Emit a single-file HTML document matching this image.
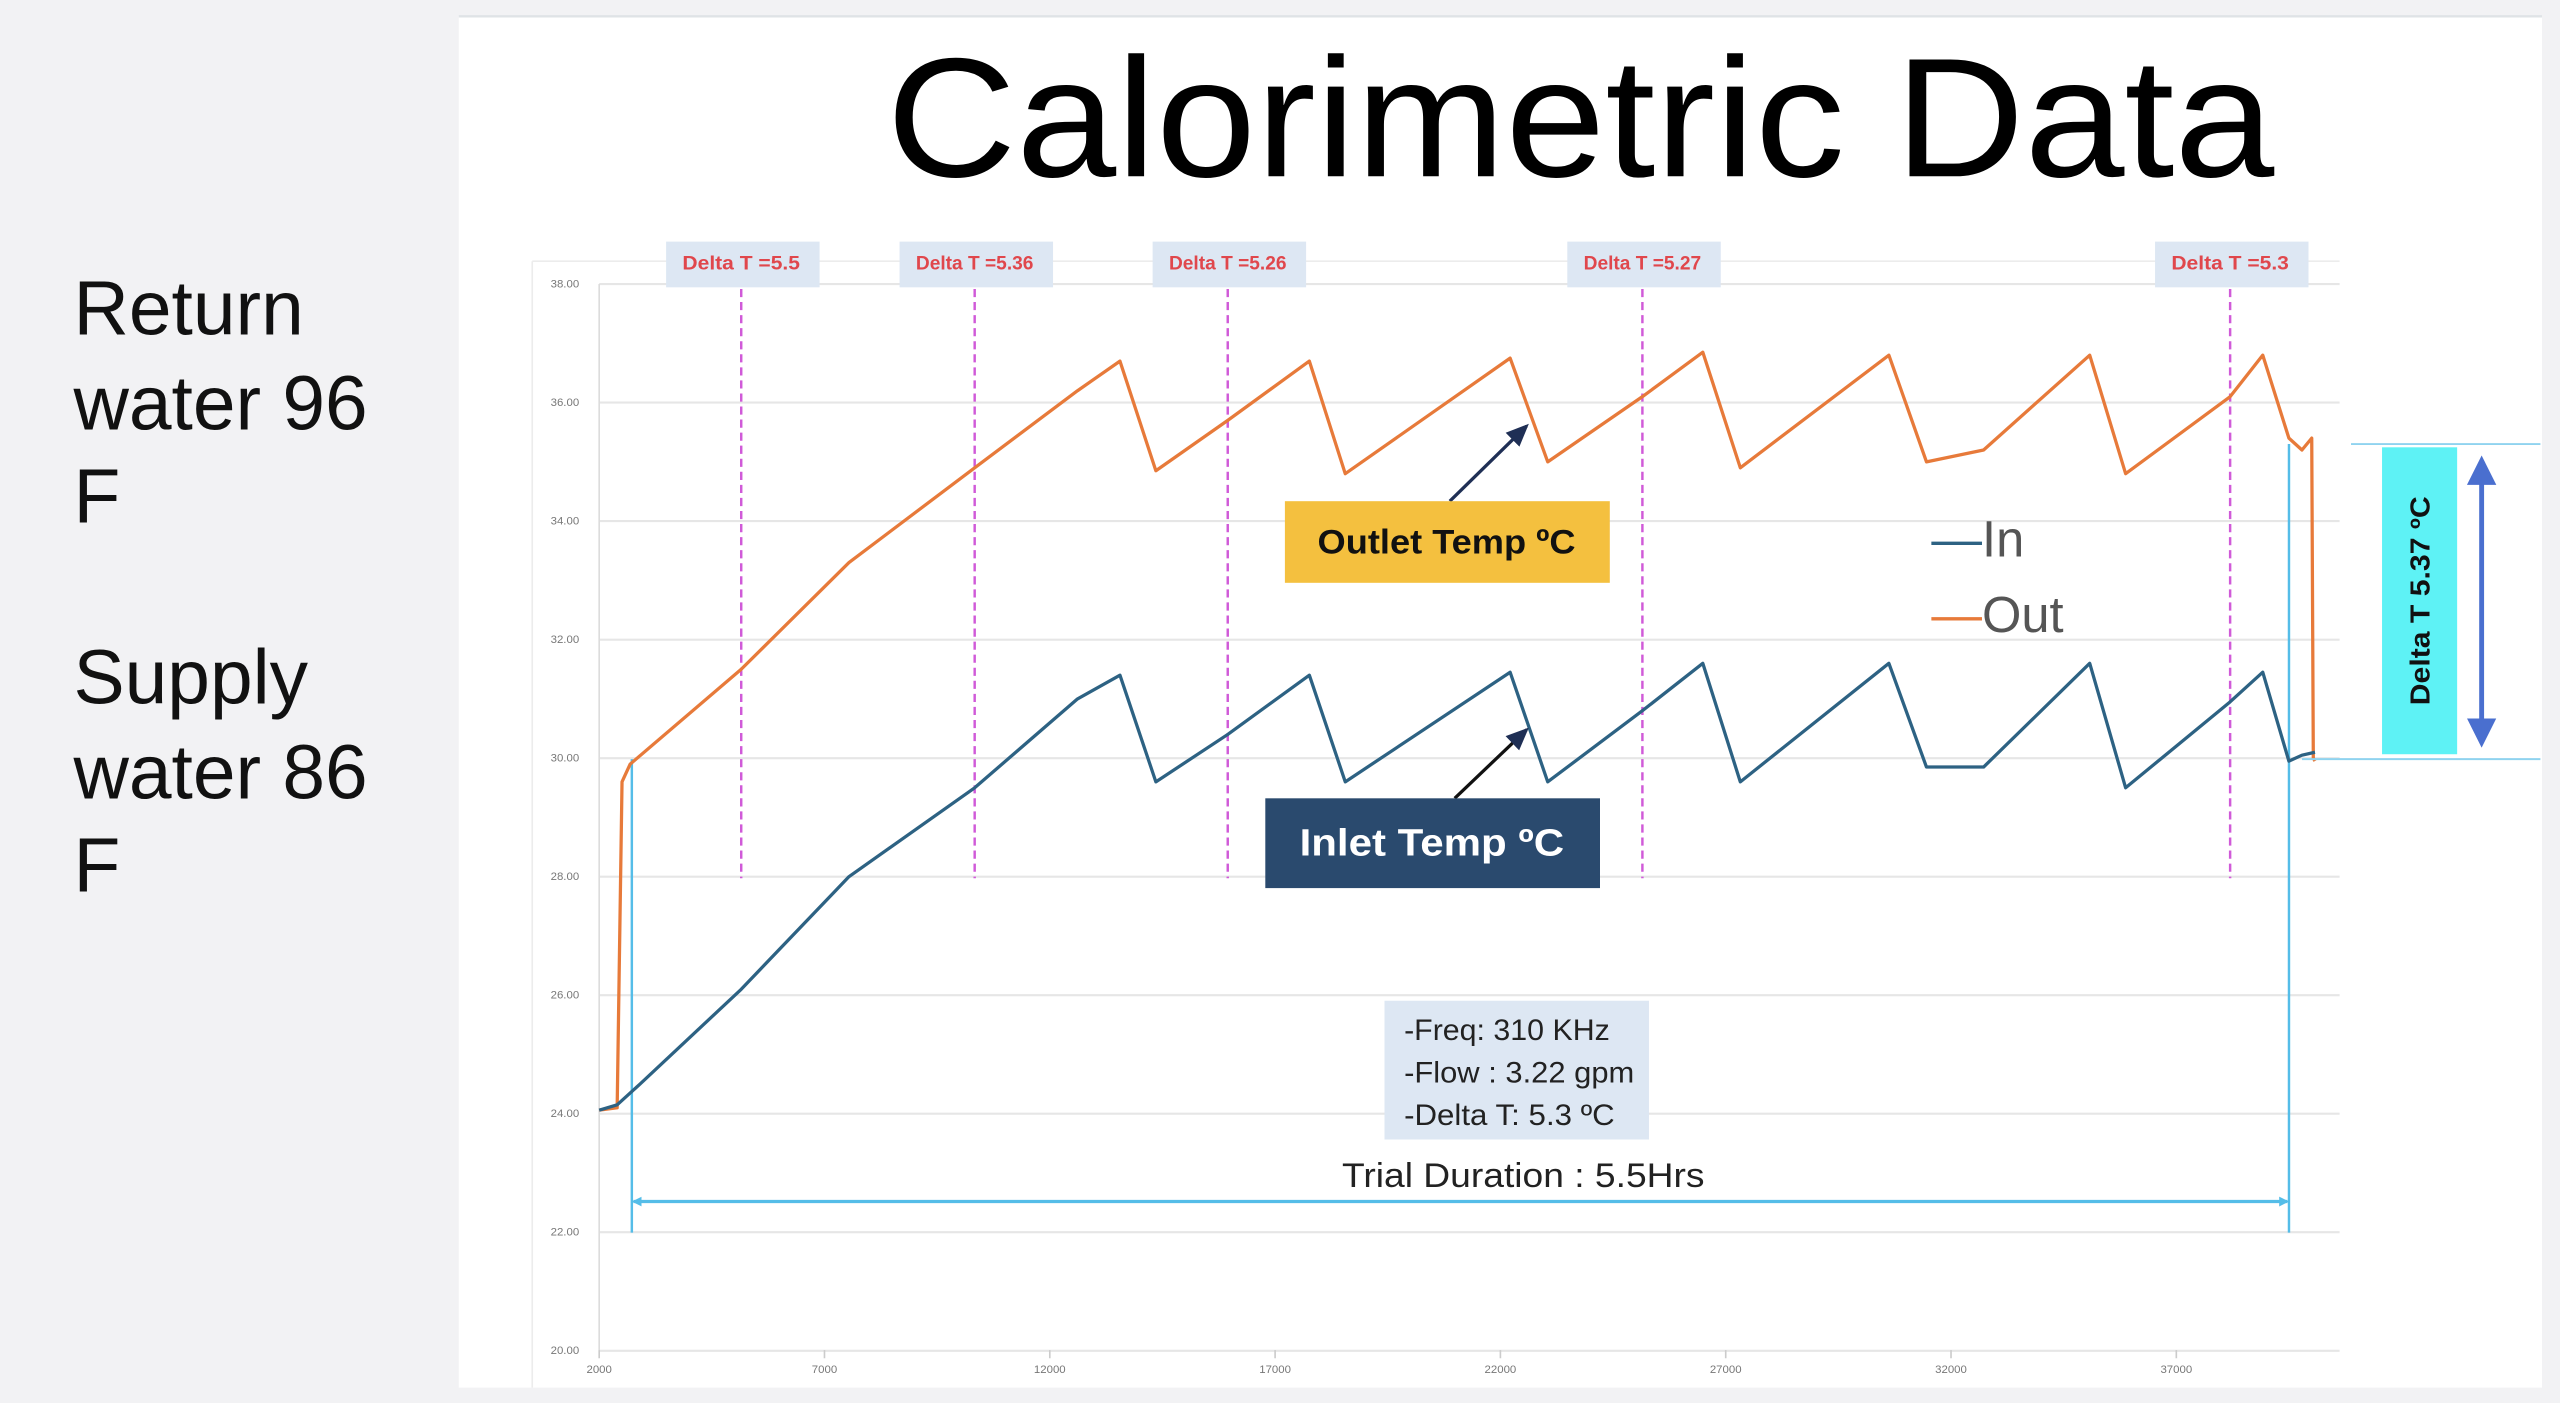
<!DOCTYPE html>
<html><head><meta charset="utf-8"><style>
html,body{margin:0;padding:0;background:#f2f2f4;}
svg{display:block;font-family:"Liberation Sans",sans-serif;}
</style></head><body>
<svg id="chart" width="2560" height="1403" viewBox="0 0 1568 859.4" preserveAspectRatio="none" xmlns="http://www.w3.org/2000/svg">
<rect x="0" y="0" width="1568" height="860" fill="#f2f2f4"/>
<rect x="281" y="10" width="1276" height="840" fill="#ffffff"/>
<line x1="281" y1="10" x2="1557" y2="10" stroke="#dfe3e6" stroke-width="1.5"/>
<text x="543" y="108" font-size="104" textLength="850" lengthAdjust="spacingAndGlyphs" fill="#000">Calorimetric Data</text>
<g font-size="47" fill="#111">
<text x="45" y="205">Return</text><text x="45" y="263">water 96</text><text x="45" y="320">F</text>
<text x="45" y="431">Supply</text><text x="45" y="489">water 86</text><text x="45" y="546">F</text>
</g>
<g id="grid"></g>
<g id="axes"></g>
<g id="marks"></g>
<g id="annot"></g>
</svg>
<script>
const yTicks=[20,22,24,26,28,30,32,34,36,38];
const xTicks=[2000,7000,12000,17000,22000,27000,32000,37000];
const outTime=[2000,2399,2507,2688,5152,7543,10333,12615,13557,14354,15949,17760,18557,22216,23050,25151,26492,27324,30621,31455,32723,35078,35875,38194,38918,39498,39788,40005,40040,40077];
const outVals=[24.06,24.1,29.6,29.9,31.5,33.3,34.9,36.2,36.7,34.85,35.7,36.7,34.8,36.75,35.0,36.1,36.85,34.9,36.8,35.0,35.2,36.8,34.8,36.1,36.8,35.4,35.2,35.4,30.0,29.95];
const inTime=[2000,2399,2906,5152,7543,10333,12615,13557,14354,15949,17760,18557,22216,23050,25151,26492,27324,30621,31455,32723,35078,35875,38194,38918,39498,39788,40077];
const inVals=[24.06,24.15,24.5,26.1,28.0,29.5,31.0,31.4,29.6,30.4,31.4,29.6,31.45,29.6,30.8,31.6,29.6,31.6,29.85,29.85,31.6,29.5,30.95,31.45,29.95,30.05,30.1];
const deltaTimes=[5152,10333,15949,25151,38194];
const deltaLabels=["Delta T =5.5","Delta T =5.36","Delta T =5.26","Delta T =5.27","Delta T =5.3"];
const NS="http://www.w3.org/2000/svg";
function X(d){return 367+(d-2000)/5000*138;}
function Y(t){return 174+(38-t)*36.3;}
function mk(tag,attrs,parent){const e=document.createElementNS(NS,tag);for(const k in attrs)e.setAttribute(k,attrs[k]);parent.appendChild(e);return e;}
const grid=document.getElementById('grid'),axes=document.getElementById('axes'),marks=document.getElementById('marks'),annot=document.getElementById('annot');
mk('line',{x1:326,y1:160,x2:1433,y2:160,stroke:'#ececec','stroke-width':1},grid);
mk('line',{x1:326,y1:160,x2:326,y2:850,stroke:'#ececec','stroke-width':1},grid);
yTicks.forEach(v=>{
 const l=mk('line',{x1:367,y1:Y(v),x2:1433,y2:Y(v),stroke:'#e6e6e6','stroke-width':1.3},grid);
 
 
 const t=mk('text',{x:346,y:Y(v)+2,'font-size':7,fill:'#777','text-anchor':'middle'},axes);
 t.textContent=v.toFixed(2);
 
 
});
mk('line',{x1:367,y1:174,x2:367,y2:827,stroke:'#dcdcdc','stroke-width':1},axes);
xTicks.forEach(v=>{
 mk('line',{x1:X(v),y1:827,x2:X(v),y2:832,stroke:'#ccc','stroke-width':1},axes);
 const t=mk('text',{x:X(v),y:841,'font-size':7,fill:'#777','text-anchor':'middle'},axes);
 t.textContent=v;
 
 
});
deltaTimes.forEach((d,i)=>{
 const l=mk('line',{x1:X(d),y1:177,x2:X(d),y2:538,stroke:'#d05ad8','stroke-width':1.5,'stroke-dasharray':'5,3'},marks);
 
 
 const r=mk('rect',{x:X(d)-46,y:148,width:94,height:28,fill:'#dde7f3'},annot);
 
 
 const t=mk('text',{x:X(d),y:165,'font-size':12,fill:'#e0474c','text-anchor':'middle','font-weight':'bold',textLength:72,lengthAdjust:'spacingAndGlyphs'},annot);
 t.textContent=deltaLabels[i];
 
 
});
function line(ts,vs,color,name){
 const p=mk('polyline',{points:ts.map((t,i)=>X(t)+','+Y(vs[i])).join(' '),fill:'none',stroke:color,'stroke-width':2,'stroke-linejoin':'round'},marks);
 
 
}
mk('line',{x1:387,y1:465,x2:387,y2:755,stroke:'#55bde8','stroke-width':1.5},marks);
mk('line',{x1:1402,y1:272,x2:1402,y2:755,stroke:'#55bde8','stroke-width':1.5},marks);
line(outTime,outVals,'#e77a3a','series-out');
line(inTime,inVals,'#2d6283','series-in');
</script>
<svg style="position:absolute;left:0;top:0" width="2560" height="1403" viewBox="0 0 1568 859.4" preserveAspectRatio="none" xmlns="http://www.w3.org/2000/svg" font-family="Liberation Sans, sans-serif">
<defs>
<marker id="ah" markerUnits="userSpaceOnUse" markerWidth="14" markerHeight="14" refX="12" refY="7" orient="auto"><path d="M0,1 L14,7 L0,13 z" fill="#1f2f55"/></marker>
<marker id="ab" markerUnits="userSpaceOnUse" markerWidth="6" markerHeight="6" refX="5" refY="3" orient="auto-start-reverse"><path d="M0,0 L6,3 L0,6 z" fill="#55bde8"/></marker>
<marker id="av" markerUnits="userSpaceOnUse" markerWidth="18" markerHeight="18" refX="9" refY="9" orient="auto-start-reverse"><path d="M0,0 L18,9 L0,18 z" fill="#4a6fcf"/></marker>
</defs>
<line x1="888" y1="307" x2="935" y2="261" stroke="#1f2f55" stroke-width="2" marker-end="url(#ah)"/>
<rect x="787" y="307" width="199" height="50" fill="#f4c03f"/>
<text x="886" y="339" font-size="21" font-weight="bold" text-anchor="middle" fill="#111" textLength="158" lengthAdjust="spacingAndGlyphs">Outlet Temp ºC</text>
<line x1="891" y1="489" x2="935" y2="447" stroke="#111" stroke-width="2" marker-end="url(#ah)"/>
<rect x="775" y="489" width="205" height="55" fill="#2a4a6e"/>
<text x="877" y="524" font-size="23" font-weight="bold" text-anchor="middle" fill="#fff" textLength="162" lengthAdjust="spacingAndGlyphs">Inlet Temp ºC</text>
<g font-size="31" fill="#555">
<text x="1183" y="341"><tspan fill="#2d6283">—</tspan>In</text>
<text x="1183" y="387"><tspan fill="#e77a3a">—</tspan>Out</text>
</g>
<rect x="848" y="613" width="162" height="85" fill="#dde7f3"/>
<g font-size="18" fill="#222">
<text x="860" y="637" textLength="126" lengthAdjust="spacingAndGlyphs">-Freq: 310 KHz</text>
<text x="860" y="663" textLength="141" lengthAdjust="spacingAndGlyphs">-Flow : 3.22 gpm</text>
<text x="860" y="689" textLength="129" lengthAdjust="spacingAndGlyphs">-Delta T: 5.3 ºC</text>
</g>
<text x="933" y="727" font-size="21" text-anchor="middle" fill="#222" textLength="222" lengthAdjust="spacingAndGlyphs">Trial Duration : 5.5Hrs</text>
<line x1="388" y1="736" x2="1401" y2="736" stroke="#55bde8" stroke-width="2" marker-start="url(#ab)" marker-end="url(#ab)"/>
<line x1="1440" y1="272" x2="1556" y2="272" stroke="#8fd3ef" stroke-width="1.2"/>
<line x1="1410" y1="465" x2="1556" y2="465" stroke="#8fd3ef" stroke-width="1.2"/>
<rect x="1459" y="274" width="46" height="188" fill="#5ef2f5"/>
<text transform="translate(1488,368) rotate(-90)" font-size="17" font-weight="bold" text-anchor="middle" fill="#111" textLength="128" lengthAdjust="spacingAndGlyphs">Delta T 5.37 ºC</text>
<line x1="1520" y1="288" x2="1520" y2="449" stroke="#4a6fcf" stroke-width="3" marker-start="url(#av)" marker-end="url(#av)"/>
</svg>
</body></html>
